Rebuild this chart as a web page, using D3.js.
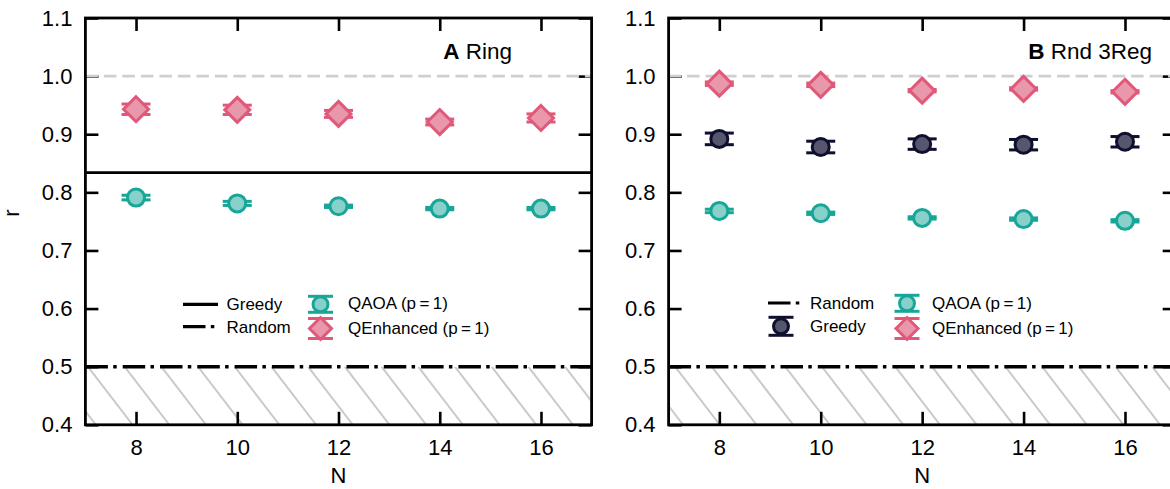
<!DOCTYPE html>
<html>
<head>
<meta charset="utf-8">
<script src="https://cdn.jsdelivr.net/npm/d3@7/dist/d3.min.js"></script>
<style>
  html, body { margin: 0; padding: 0; background: #fff; }
  svg { display: block; }
  text { font-family: "Liberation Sans", Arial, Helvetica, sans-serif; fill: #000; }
</style>
</head>
<body>
<svg id="chart" width="1170" height="489"></svg>
<script>
// ---- data ----
const sizes = [8, 10, 12, 14, 16];
const yTickValues = [0.4, 0.5, 0.6, 0.7, 0.8, 0.9, 1.0, 1.1];

// Ring graphs
const ringQAOA = [0.791, 0.781, 0.776, 0.772, 0.772];
const ringQAOAErr = [0.004, 0.0035, 0.002, 0.002, 0.002];
const ringQE = [0.943, 0.942, 0.935, 0.921, 0.928];
const ringQEErr = [0.009, 0.008, 0.006, 0.005, 0.007];
const ringGreedy = 0.834;

// Random 3-regular graphs
const regQAOA = [0.768, 0.764, 0.756, 0.754, 0.751];
const regQAOAErr = [0.003, 0.002, 0.002, 0.002, 0.002];
const regGreedy = [0.892, 0.878, 0.883, 0.882, 0.887];
const regGreedyErr = [0.010, 0.010, 0.009, 0.009, 0.009];
const regQE = [0.987, 0.985, 0.975, 0.978, 0.973];
const regQEErr = [0.003, 0.003, 0.002, 0.002, 0.002];

const randomLevel = 0.5;
const optimalLevel = 1.0;

// ---- styles ----
const FONT = '"Liberation Sans", Arial, Helvetica, sans-serif';
const col = {
  qe:     { stroke: "#e0587a", fill: "#e898aa" },
  qaoa:   { stroke: "#17a697", fill: "#88d1ca" },
  greedy: { stroke: "#0f0f2e", fill: "#56576f" }
};
const DASHDOT = "22.5,5.3,3.5,6";
const TICK_FONT = 22;

const svg = d3.select("#chart");
const defs = svg.append("defs");

const plotTop = 18, plotBottom = 424.8;

function drawMarker(sel, shape, cx, cy, color, k) {
  if (shape === "circle") {
    sel.append("circle").attr("cx", cx).attr("cy", cy).attr("r", 8.5 * k)
      .attr("fill", color.fill).attr("stroke", color.stroke).attr("stroke-width", 3);
  } else {
    const h = 12.5 * k;
    sel.append("path")
      .attr("d", `M${cx},${cy - h}L${cx + h},${cy}L${cx},${cy + h}L${cx - h},${cy}Z`)
      .attr("fill", color.fill).attr("stroke", color.stroke).attr("stroke-width", 3)
      .attr("stroke-linejoin", "miter");
  }
}

function drawPanel(p) {
  const x = d3.scaleLinear().domain([7, 17]).range([p.x0, p.x1]);
  const y = d3.scaleLinear().domain([0.4, 1.1]).range([plotBottom, plotTop]);
  const g = svg.append("g");

  // hatched region below the random-guess level
  const clipId = "clip-" + p.id;
  defs.append("clipPath").attr("id", clipId)
    .append("rect")
    .attr("x", p.x0).attr("y", y(randomLevel))
    .attr("width", p.x1 - p.x0).attr("height", y(0.4) - y(randomLevel));
  const hatch = g.append("g").attr("clip-path", `url(#${clipId})`);
  const spacing = 36.7, slope = 1.3;
  const hTop = y(randomLevel), hBot = y(0.4);
  const phase = 398 % spacing;
  for (let sx = phase - 200; sx < p.x1 + 50; sx += spacing) {
    hatch.append("line")
      .attr("x1", sx).attr("y1", hTop)
      .attr("x2", sx + (hBot - hTop) / slope).attr("y2", hBot)
      .attr("stroke", "#cacaca").attr("stroke-width", 2);
  }

  // inward ticks on all four sides
  const tickLen = 13;
  const left = g.append("g").attr("transform", `translate(${p.x0},0)`)
    .call(d3.axisLeft(y).tickValues(yTickValues).tickFormat(d3.format(".1f"))
      .tickSize(-tickLen).tickSizeOuter(0).tickPadding(13));
  const right = g.append("g").attr("transform", `translate(${p.x1},0)`)
    .call(d3.axisRight(y).tickValues(yTickValues).tickFormat("")
      .tickSize(-tickLen).tickSizeOuter(0));
  const bot = g.append("g").attr("transform", `translate(0,${plotBottom})`)
    .call(d3.axisBottom(x).tickValues(sizes).tickFormat(d3.format("d"))
      .tickSize(-tickLen).tickSizeOuter(0).tickPadding(15));
  const topAx = g.append("g").attr("transform", `translate(0,${plotTop})`)
    .call(d3.axisTop(x).tickValues(sizes).tickFormat("")
      .tickSize(-tickLen).tickSizeOuter(0));
  [left, right, bot, topAx].forEach(a => {
    a.select(".domain").remove();
    a.selectAll("line").attr("stroke", "#000").attr("stroke-width", 2.6);
    a.selectAll("text").attr("font-size", TICK_FONT).attr("font-family", FONT).attr("fill", "#000");
  });

  // reference levels
  g.append("line")
    .attr("x1", p.x0).attr("x2", p.x1)
    .attr("y1", y(optimalLevel)).attr("y2", y(optimalLevel))
    .attr("stroke", "#cfcfcf").attr("stroke-width", 2.6)
    .attr("stroke-dasharray", "12.5,6");
  g.append("line")
    .attr("x1", p.x0).attr("x2", p.x1)
    .attr("y1", y(randomLevel)).attr("y2", y(randomLevel))
    .attr("stroke", "#000").attr("stroke-width", 3.4)
    .attr("stroke-dasharray", DASHDOT);
  if (p.greedyLine != null) {
    g.append("line")
      .attr("x1", p.x0).attr("x2", p.x1)
      .attr("y1", y(p.greedyLine)).attr("y2", y(p.greedyLine))
      .attr("stroke", "#000").attr("stroke-width", 2.8);
  }

  // series markers with error bars
  p.series.forEach(s => {
    const sg = g.append("g");
    sizes.forEach((n, i) => {
      const cx = x(n), v = s.values[i], e = s.errors[i];
      const yHi = y(v + e), yLo = y(v - e);
      sg.append("line").attr("x1", cx).attr("x2", cx).attr("y1", yHi).attr("y2", yLo)
        .attr("stroke", s.color.stroke).attr("stroke-width", 2.6);
      [yHi, yLo].forEach(cy => {
        sg.append("line").attr("x1", cx - 14.5).attr("x2", cx + 14.5)
          .attr("y1", cy).attr("y2", cy)
          .attr("stroke", s.color.stroke).attr("stroke-width", 3);
      });
      drawMarker(sg, s.shape, cx, y(v), s.color, 1);
    });
  });

  // frame
  g.append("rect")
    .attr("x", p.x0).attr("y", plotTop)
    .attr("width", p.x1 - p.x0).attr("height", plotBottom - plotTop)
    .attr("fill", "none").attr("stroke", "#000").attr("stroke-width", 2.8);

  // x-axis title
  g.append("text").attr("x", (p.x0 + p.x1) / 2).attr("y", 483)
    .attr("text-anchor", "middle").attr("font-size", TICK_FONT).text("N");

  // panel title
  const t = g.append("text").attr("x", p.titleX).attr("y", 59)
    .attr("text-anchor", "end").attr("font-size", 22.5);
  t.append("tspan").attr("font-weight", "bold").text(p.letter);
  t.append("tspan").text(" " + p.title);

  // legend
  p.legend.forEach(item => {
    if (item.type === "line") {
      g.append("line").attr("x1", item.x).attr("x2", item.x + 35)
        .attr("y1", item.y).attr("y2", item.y)
        .attr("stroke", "#000").attr("stroke-width", 3.2)
        .attr("stroke-dasharray", item.dash || null);
    } else {
      const cx = item.x, cy = item.y, e = item.cap;
      g.append("line").attr("x1", cx).attr("x2", cx).attr("y1", cy - e).attr("y2", cy + e)
        .attr("stroke", item.color.stroke).attr("stroke-width", 2.6);
      [cy - e, cy + e].forEach(yy => {
        g.append("line").attr("x1", cx - 12.5).attr("x2", cx + 12.5)
          .attr("y1", yy).attr("y2", yy)
          .attr("stroke", item.color.stroke).attr("stroke-width", 3);
      });
      drawMarker(g, item.shape, cx, cy, item.color, 0.88);
    }
    g.append("text").attr("x", item.tx).attr("y", item.ty)
      .attr("dy", "0.35em").attr("font-size", 17).text(item.label);
  });
}

drawPanel({
  id: "ring", x0: 85.4, x1: 591.6, letter: "A", title: "Ring", titleX: 512,
  greedyLine: ringGreedy,
  series: [
    { shape: "circle", color: col.qaoa, values: ringQAOA, errors: ringQAOAErr },
    { shape: "diamond", color: col.qe, values: ringQE, errors: ringQEErr }
  ],
  legend: [
    { type: "line", x: 183, y: 304.3, tx: 226.5, ty: 304.5, label: "Greedy" },
    { type: "line", x: 183, y: 326.7, dash: DASHDOT, tx: 226.5, ty: 326.7, label: "Random" },
    { type: "marker", shape: "circle", color: col.qaoa, x: 320.5, y: 304.3, cap: 8, tx: 348, ty: 303.5, label: "QAOA (p\u2009=\u20091)" },
    { type: "marker", shape: "diamond", color: col.qe, x: 320.5, y: 328.5, cap: 10, tx: 348, ty: 328, label: "QEnhanced (p\u2009=\u20091)" }
  ]
});

drawPanel({
  id: "reg", x0: 668.6, x1: 1175.7, letter: "B", title: "Rnd 3Reg", titleX: 1152,
  greedyLine: null,
  series: [
    { shape: "circle", color: col.qaoa, values: regQAOA, errors: regQAOAErr },
    { shape: "circle", color: col.greedy, values: regGreedy, errors: regGreedyErr },
    { shape: "diamond", color: col.qe, values: regQE, errors: regQEErr }
  ],
  legend: [
    { type: "line", x: 768, y: 303, dash: DASHDOT, tx: 810, ty: 303, label: "Random" },
    { type: "marker", shape: "circle", color: col.greedy, x: 781, y: 326.3, cap: 9, tx: 810, ty: 326, label: "Greedy" },
    { type: "marker", shape: "circle", color: col.qaoa, x: 907, y: 303.3, cap: 8, tx: 932, ty: 303, label: "QAOA (p\u2009=\u20091)" },
    { type: "marker", shape: "diamond", color: col.qe, x: 907, y: 328.5, cap: 10, tx: 932, ty: 328, label: "QEnhanced (p\u2009=\u20091)" }
  ]
});

// shared y-axis label
svg.append("text")
  .attr("transform", "translate(19,213) rotate(-90)")
  .attr("text-anchor", "middle").attr("font-size", TICK_FONT).text("r");
</script>
</body>
</html>
